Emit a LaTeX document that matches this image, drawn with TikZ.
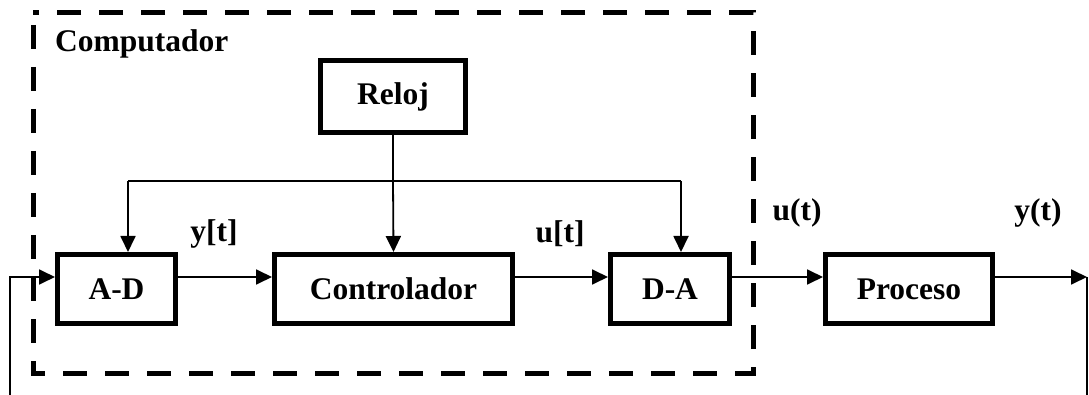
\documentclass[tikz,border=0pt]{standalone}
\usepackage{fontspec}
\setmainfont{Liberation Serif}
\usetikzlibrary{arrows.meta}
\begin{document}
\begin{tikzpicture}[x=1pt,y=-1pt,
  blk/.style={draw, line width=5pt, inner sep=0pt, font=\fontsize{31.5}{36}\selectfont\bfseries},
  lbl/.style={inner sep=0pt, font=\fontsize{31.5}{36}\selectfont\bfseries},
  sig/.style={line width=1.8pt, -{Triangle[length=16pt,width=15pt]}},
  wire/.style={line width=1.8pt}]
  \useasboundingbox (0,0) rectangle (1089,395);

  % computer boundary
  \draw[line width=5pt, dash pattern=on 24pt off 18pt, dash phase=30pt]
    (33,13) -- (33,373) -- (753,373) -- (753,13) -- cycle;
  \node[lbl, anchor=base west] (comp) at (55,52) {Computador};

  % blocks
  \node[blk, minimum width=145pt, minimum height=72pt] (reloj) at (393,96.5) {Reloj};
  \node[blk, minimum width=118pt, minimum height=69pt] (ad) at (116.5,289) {A-D};
  \node[blk, minimum width=238pt, minimum height=69pt] (ctrl) at (393.5,289) {Controlador};
  \node[blk, minimum width=119pt, minimum height=69pt] (da) at (670,289) {D-A};
  \node[blk, minimum width=167pt, minimum height=69pt] (proc) at (909,289) {Proceso};

  % reference levels
  \coordinate (lvl) at (0,277);
  \coordinate (busL) at (128,181);
  \coordinate (busR) at (681,181);
  \coordinate (out) at (1087,277);
  \coordinate (fbL) at (10,400);
  \coordinate (fbR) at (1087,400);

  % clock distribution
  \draw[wire] (reloj.south) -- (reloj.south |- busL);
  \draw[wire] (busL) -- (busR);
  \draw[sig] (busL) -- (busL |- ad.north);
  \draw[sig] (reloj.south |- busL) -- (ctrl.north);
  \draw[sig] (busR) -- (busR |- da.north);

  % signal path
  \draw[sig] (ad.east |- lvl) -- (ctrl.west |- lvl);
  \draw[sig] (ctrl.east |- lvl) -- (da.west |- lvl);
  \draw[sig] (da.east |- lvl) -- (proc.west |- lvl);
  \draw[sig] (proc.east |- lvl) -- (out);
  \draw[wire] (out) -- (fbR);
  \draw[sig] (fbL) -- (fbL |- lvl) -- (ad.west |- lvl);

  % signal labels
  \node[lbl] (yk) at (214,234) {y[t]};
  \node[lbl] (uk) at (560,234) {u[t]};
  \node[lbl] (ut) at (797,213) {u(t)};
  \node[lbl] (yt) at (1038,213) {y(t)};
\end{tikzpicture}
\end{document}
